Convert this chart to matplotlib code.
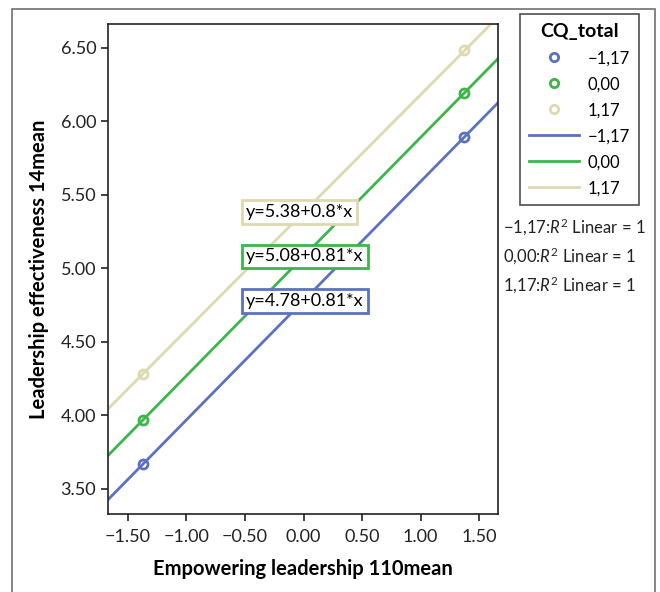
import numpy as np
import matplotlib.pyplot as plt
from matplotlib.lines import Line2D
from matplotlib.patches import Rectangle

plt.rcParams['font.family'] = ['Lato', 'DejaVu Sans']
plt.rcParams['mathtext.fontset'] = 'custom'
plt.rcParams['mathtext.rm'] = 'Lato'
plt.rcParams['mathtext.it'] = 'Lato:italic'

# Dados
grupos = ['\u22121,17', '0,00', '1,17']
cores = ['#5b72c0', '#3cb54a', '#ddd9b0']
intercepto = [4.78, 5.08, 5.38]
inclinacao = [0.81, 0.81, 0.80]
rotulos_eq = ['y=4.78+0.81*x', 'y=5.08+0.81*x', 'y=5.38+0.8*x']
x_pontos = [-1.37, 1.37]
y_pontos = [[3.67, 5.89], [3.97, 6.19], [4.28, 6.48]]

xlim = (-1.67, 1.66)
ylim = (3.33, 6.66)
xticks = [-1.5, -1.0, -0.5, 0.0, 0.5, 1.0, 1.5]
yticks = [3.5, 4.0, 4.5, 5.0, 5.5, 6.0, 6.5]

fig = plt.figure(figsize=(6.6, 5.92), dpi=100)
ax = fig.add_axes([108/660, 1 - 514/592, 390/660, 490/592])

# moldura externa
fig.patches.append(Rectangle((12/660, -0.05), 643/660, 1.05 - 9/592,
                             transform=fig.transFigure, fill=False,
                             edgecolor='#707070', linewidth=1.2))

xx = np.array(xlim)
for i in range(3):
    ax.plot(xx, intercepto[i] + inclinacao[i]*xx, color=cores[i], linewidth=2, zorder=2)
    ax.plot(x_pontos, y_pontos[i], 'o', markerfacecolor='none', markeredgecolor=cores[i],
            markeredgewidth=2, markersize=6.5, zorder=3)

# caixas com as equações
for i in range(3):
    ax.text(-0.49, intercepto[i], rotulos_eq[i], fontsize=13, ha='left', va='center',
            bbox=dict(boxstyle='square,pad=0.22', facecolor='white', edgecolor=cores[i], linewidth=2),
            zorder=4)

ax.set_xlim(xlim)
ax.set_ylim(ylim)
ax.set_xticks(xticks)
ax.set_yticks(yticks)
ax.set_xticklabels([f'{t:.2f}'.replace('-', '\u2212') for t in xticks])
ax.set_yticklabels([f'{t:.2f}' for t in yticks])
ax.tick_params(direction='out', length=5, width=1.2, labelsize=13, colors='#222222')
ax.tick_params(axis='x', pad=6)
for s in ax.spines.values():
    s.set_linewidth(1.2)
    s.set_color('#222222')
ax.set_xlabel('Empowering leadership 110mean', fontsize=14.5, fontweight='bold', labelpad=10)
ax.set_ylabel('Leadership effectiveness 14mean', fontsize=14.5, fontweight='bold', labelpad=8)

handles = [Line2D([], [], linestyle='none', marker='o', markerfacecolor='none',
                  markeredgecolor=c, markeredgewidth=2, markersize=6) for c in cores]
handles += [Line2D([], [], color=c, linewidth=2) for c in cores]
leg = fig.legend(handles, grupos + grupos, title='CQ_total', loc='upper left',
                 bbox_to_anchor=(520/660, 1 - 14/592), frameon=True, fontsize=12,
                 title_fontproperties={'weight': 'bold', 'size': 14},
                 handlelength=3.0, handletextpad=0.5, labelspacing=0.6,
                 borderpad=0.55, borderaxespad=0, fancybox=False)
leg.get_frame().set_edgecolor('#222222')
leg.get_frame().set_linewidth(1.2)

for k, g in enumerate(grupos):
    fig.text(503/660, 1 - (227 + 29*k)/592, g + ':$R^2$ Linear = 1', fontsize=12,
             ha='left', va='center', color='#222222')

fig.savefig('out.png', dpi=100)
